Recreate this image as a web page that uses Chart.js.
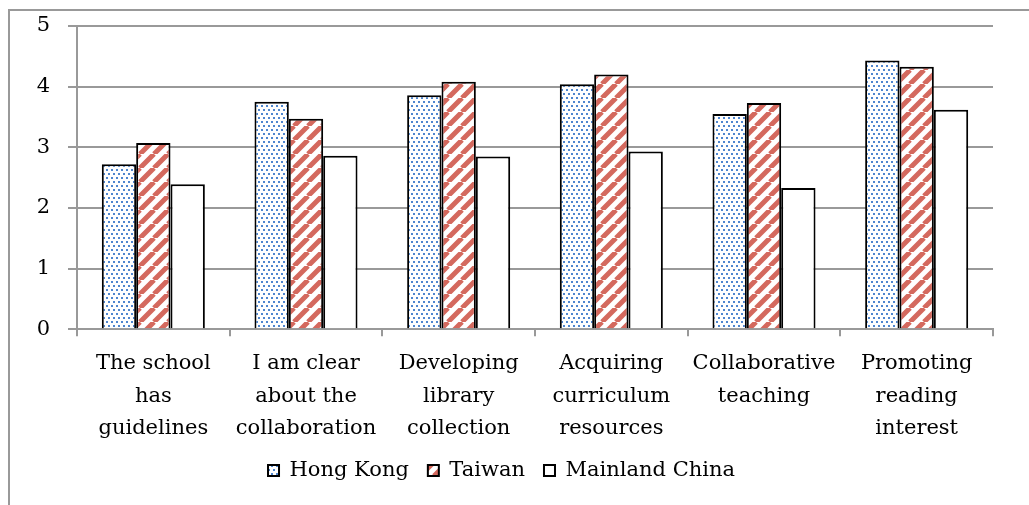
<!DOCTYPE html>
<html>
<head>
<meta charset="utf-8">
<script src="https://cdn.jsdelivr.net/npm/chart.js@4"></script>
<style>
  html, body { margin: 0; padding: 0; background: #fff; }
  #wrap { position: relative; width: 1029px; height: 505px; }
  #frame { position: absolute; left: 8px; top: 9px; right: -10px; bottom: -10px;
           border-left: 2px solid #999; border-top: 2px solid #999; }
  canvas { position: absolute; left: 0; top: 0; }
</style>
</head>
<body>
<div id="wrap">
  <div id="frame"></div>
  <canvas id="myChart" width="1029" height="505"></canvas>
</div>
<script>
const categories = [
    ['The school', 'has', 'guidelines'],
    ['I am clear', 'about the', 'collaboration'],
    ['Developing', 'library', 'collection'],
    ['Acquiring', 'curriculum', 'resources'],
    ['Collaborative', 'teaching'],
    ['Promoting', 'reading', 'interest']
];
const hongKong = [2.72, 3.75, 3.86, 4.04, 3.55, 4.43];
const taiwan = [3.07, 3.47, 4.08, 4.20, 3.73, 4.33];
const mainland = [2.39, 2.86, 2.85, 2.93, 2.33, 3.62];
const yTicks = [0, 1, 2, 3, 4, 5];

const serif = "'DejaVu Serif', 'Liberation Serif', serif";

// dotted fill for Hong Kong
function dotPattern() {
    const c = document.createElement('canvas');
    c.width = 10; c.height = 8;
    const g = c.getContext('2d');
    g.fillStyle = '#fff';
    g.fillRect(0, 0, 10, 8);
    g.fillStyle = '#4f86cf';
    g.fillRect(1, 1, 2, 2);
    g.fillRect(6, 1, 2, 2);
    g.fillRect(3, 5, 2, 2);
    g.fillRect(8, 5, 2, 2);
    return g.createPattern(c, 'repeat');
}

// diagonal stripes for Taiwan
function stripePattern() {
    const s = 14;
    const c = document.createElement('canvas');
    c.width = s; c.height = s;
    const g = c.getContext('2d');
    g.fillStyle = '#fff';
    g.fillRect(0, 0, s, s);
    g.strokeStyle = '#d4695e';
    g.lineWidth = 5;
    g.beginPath();
    for (let k = -1; k <= 1; k++) {
        g.moveTo(k * s, s);
        g.lineTo(k * s + s, 0);
    }
    g.stroke();
    return g.createPattern(c, 'repeat');
}

const chartCanvas = document.querySelector('#myChart');

new Chart(chartCanvas, {
    type: 'bar',
    data: {
        labels: categories,
        datasets: [
            { label: 'Hong Kong', data: hongKong, backgroundColor: dotPattern(), borderColor: '#000', borderWidth: 2 },
            { label: 'Taiwan', data: taiwan, backgroundColor: stripePattern(), borderColor: '#000', borderWidth: 2 },
            { label: 'Mainland China', data: mainland, backgroundColor: '#fff', borderColor: '#000', borderWidth: 2 }
        ]
    },
    options: {
        responsive: false,
        animation: false,
        layout: { padding: { left: 10, right: 36, top: 26, bottom: 14 } },
        datasets: { bar: { categoryPercentage: 0.675, barPercentage: 1.0 } },
        scales: {
            x: {
                afterFit: scale => { scale.height -= 15; },
                grid: { display: true, drawOnChartArea: false, offset: true, color: '#999', lineWidth: 2, tickLength: 7 },
                border: { color: '#999', width: 2 },
                ticks: { color: '#000', font: { family: serif, size: 21, lineHeight: 1.55 }, maxRotation: 0, autoSkip: false, padding: 11 }
            },
            y: {
                min: 0, max: 5,
                afterBuildTicks: scale => { scale.ticks = yTicks.map(v => ({ value: v })); },
                afterFit: scale => { scale.width = 67; scale.paddingTop = 0; },
                grid: { color: '#999', lineWidth: 2, tickLength: 9 },
                border: { color: '#999', width: 2 },
                ticks: { color: '#000', font: { family: serif, size: 21 }, padding: 18 }
            }
        },
        plugins: {
            legend: {
                position: 'bottom',
                labels: {
                    color: '#000',
                    font: { family: serif, size: 21 },
                    boxWidth: 11, boxHeight: 11, padding: 19,
                    useBorderRadius: false
                }
            },
            tooltip: { enabled: false }
        }
    }
});
</script>
</body>
</html>
